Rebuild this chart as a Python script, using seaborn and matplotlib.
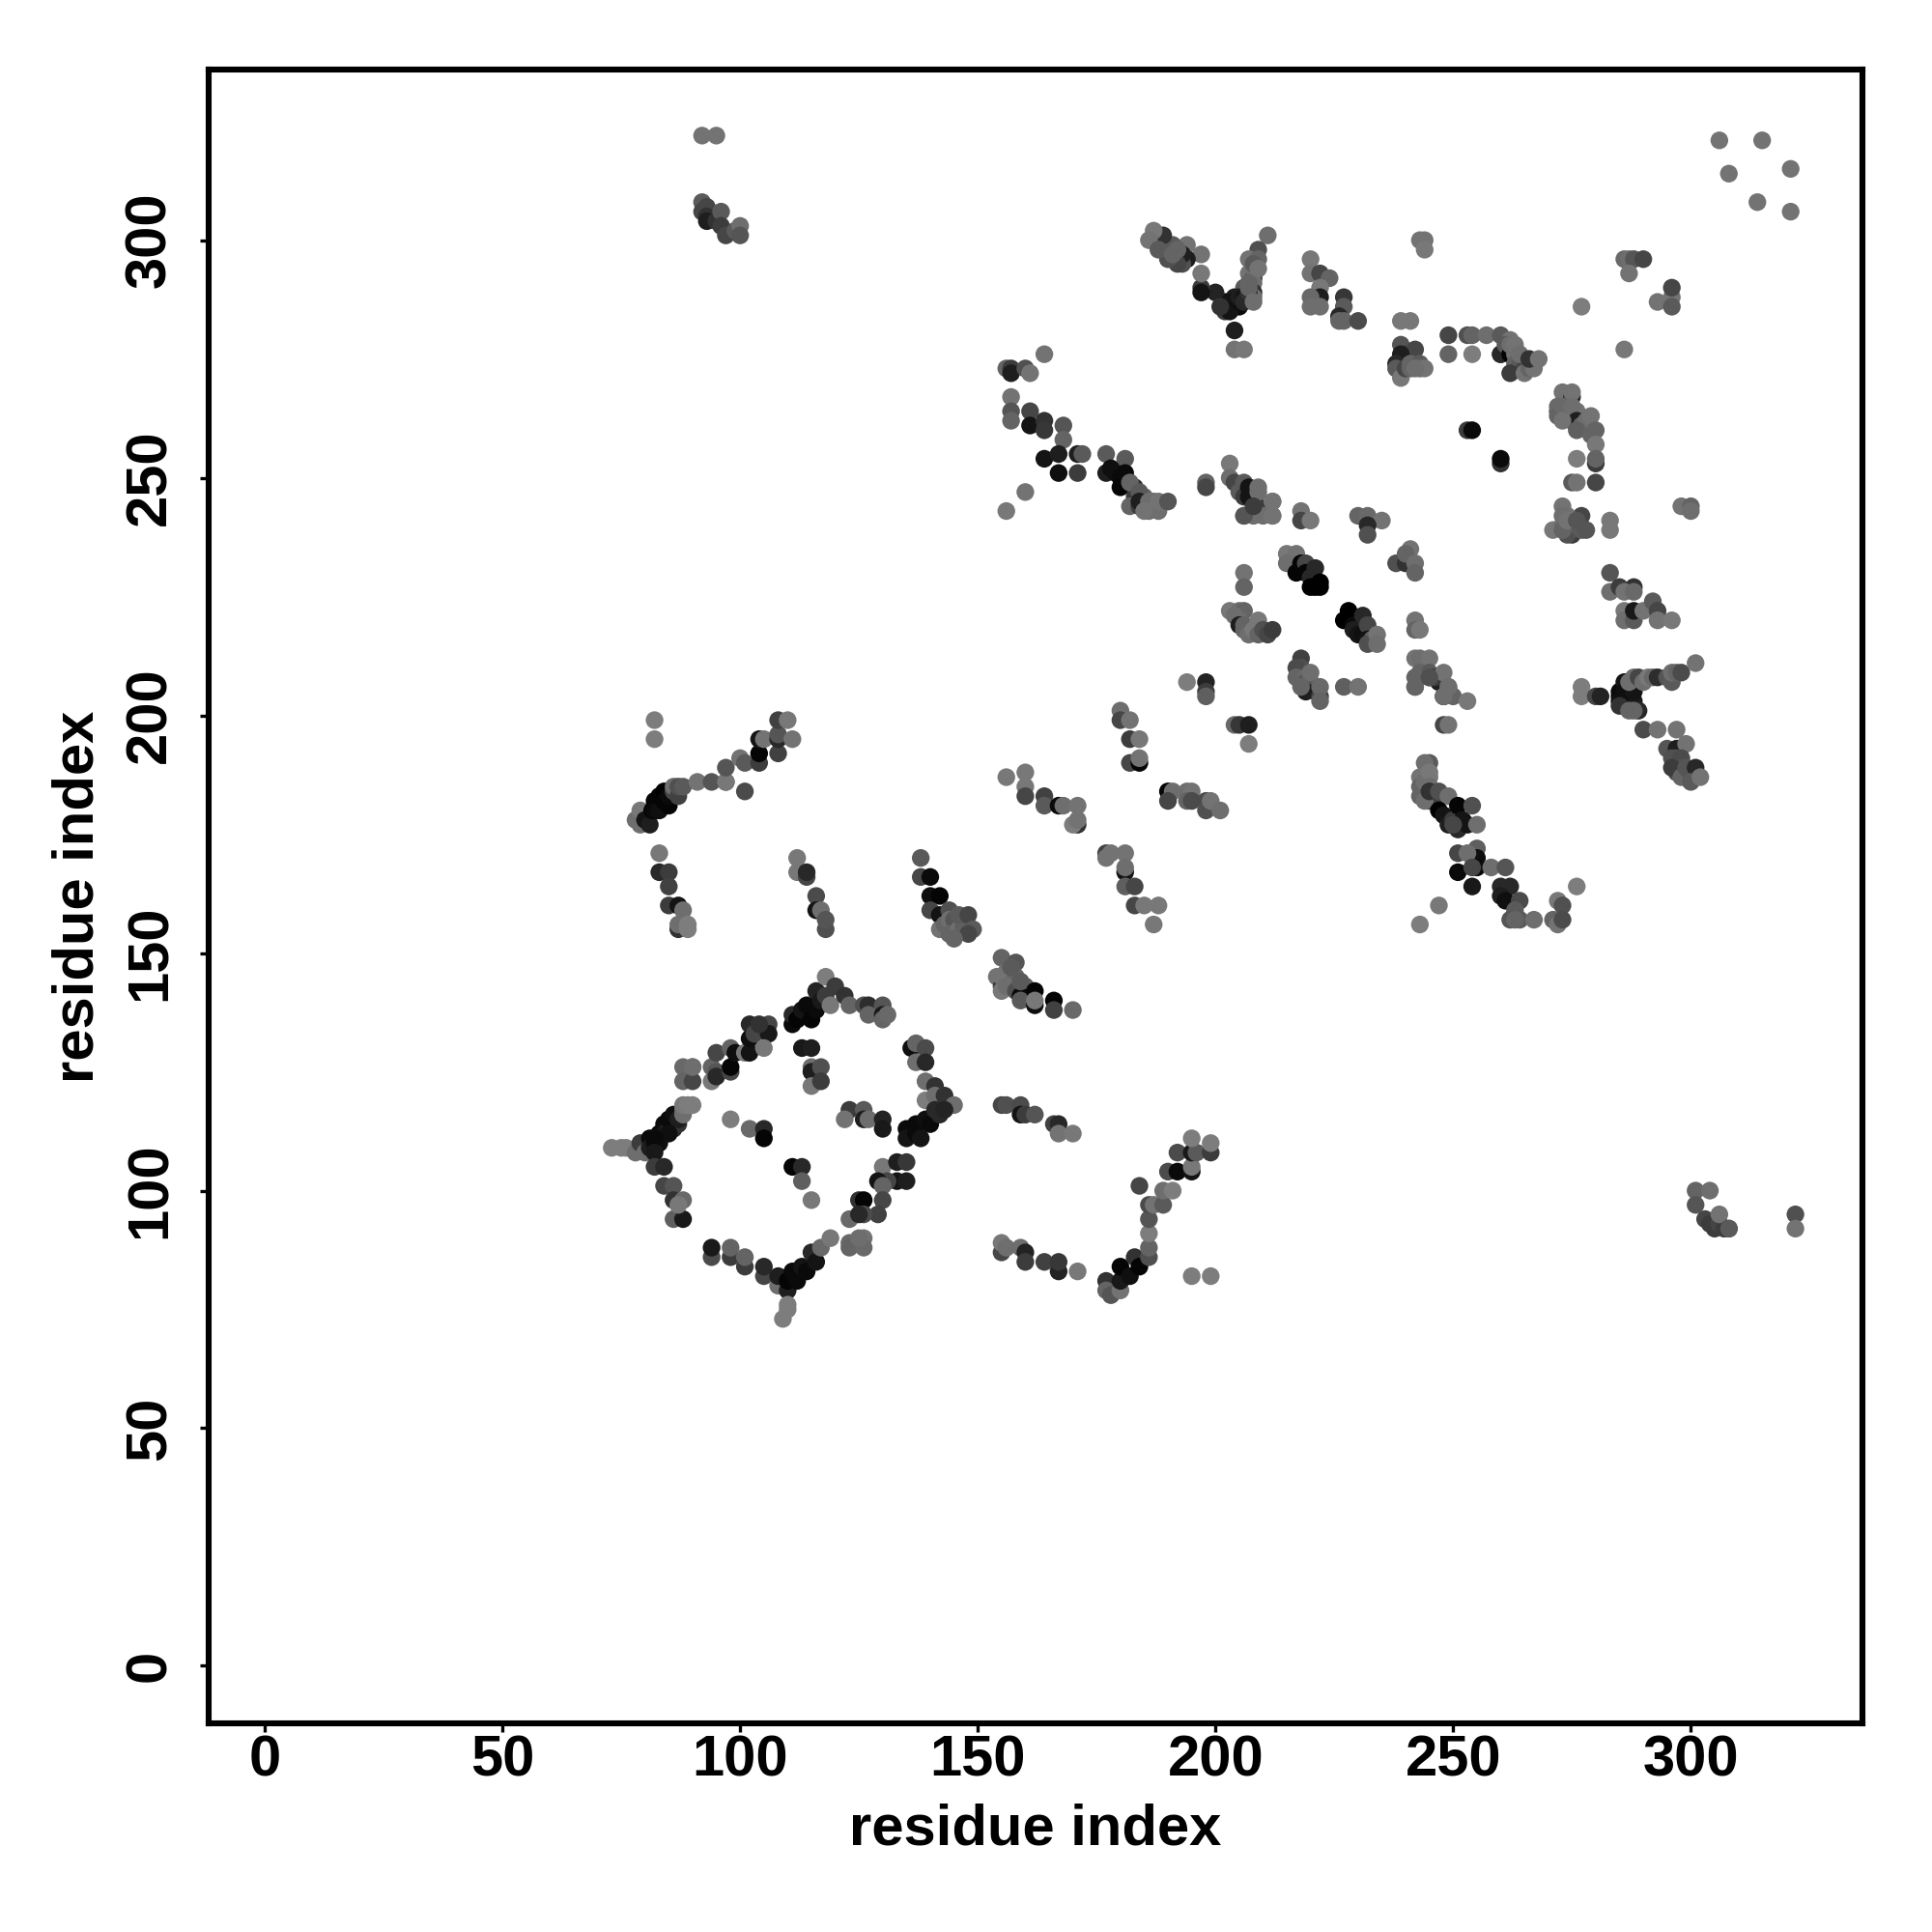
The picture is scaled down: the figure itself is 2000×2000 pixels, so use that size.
#!/usr/bin/env python3
"""Residue contact map: grey dots, darker means stronger contact."""

import matplotlib
matplotlib.use("Agg")
import matplotlib.pyplot as plt
import pandas as pd
import seaborn as sns

# values, one x / y / grey triple per group of dots
diamond_left_x = [73, 75, 76, 78, 79, 80, 81, 81, 83, 82, 84, 84, 85, 86, 86, 87, 87, 85, 86, 87, 85, 83, 82, 88, 88, 88, 89, 90]
diamond_left_y = [109, 109, 109, 108, 110, 108, 111, 109, 112, 110, 114, 112, 113, 115, 113, 116, 114, 115, 116, 115, 112, 110, 111, 117, 116, 118, 118, 118]
diamond_left_g = [125, 125, 125, 110, 60, 110, 10, 30, 10, 15, 10, 20, 30, 20, 40, 50, 50, 10, 15, 30, 15, 15, 10, 100, 110, 120, 125, 125]

diamond_low_x = [82, 82, 84, 84, 86, 86, 88, 86, 88, 87]
diamond_low_y = [108, 105, 105, 101, 101, 98, 98, 94, 94, 97]
diamond_low_g = [25, 60, 40, 70, 85, 50, 105, 95, 25, 120]

diamond_upper_x = [88, 90, 88, 90, 90, 94, 94, 95, 95, 95, 98, 98, 98, 99, 101, 102, 102, 102, 103, 106, 106, 105, 104]
diamond_upper_y = [126, 126, 123, 123, 126, 123, 126, 129, 125, 124, 130, 125, 126, 129, 129, 129, 135, 132, 133, 135, 133, 130, 135]
diamond_upper_g = [105, 105, 100, 70, 110, 120, 100, 70, 85, 40, 100, 70, 5, 15, 120, 20, 40, 15, 70, 70, 25, 120, 50]

diamond_top_x = [111, 111, 112, 113, 114, 115, 116, 116, 117, 118, 118, 119, 120, 122, 123, 126, 127, 127, 130, 130, 130, 131]
diamond_top_y = [135, 137, 136, 138, 139, 136, 142, 138, 140, 145, 141, 139, 143, 141, 139, 139, 139, 137, 139, 137, 136, 137]
diamond_top_g = [10, 40, 5, 20, 10, 5, 35, 10, 25, 125, 60, 120, 60, 50, 100, 80, 45, 100, 85, 25, 100, 105]

diamond_mid_x = [113, 115, 115, 115, 115, 117, 117, 98, 102, 105, 105, 111, 113, 113, 115, 123, 122, 126, 126, 127, 130, 130]
diamond_mid_y = [130, 130, 126, 125, 122, 126, 123, 115, 113, 113, 111, 105, 105, 102, 98, 117, 115, 117, 115, 115, 115, 113]
diamond_mid_g = [25, 30, 110, 30, 120, 80, 60, 125, 105, 40, 5, 5, 40, 95, 120, 60, 115, 90, 30, 110, 35, 25]

diamond_right_x = [136, 137, 137, 139, 139, 139, 141, 139, 141, 143, 145, 135, 135, 137, 137, 138, 139, 140, 141, 142, 143]
diamond_right_y = [130, 131, 127, 130, 127, 123, 122, 119, 120, 120, 118, 113, 111, 114, 112, 111, 115, 114, 117, 116, 117]
diamond_right_g = [15, 100, 110, 75, 40, 110, 50, 125, 110, 50, 110, 10, 20, 10, 10, 20, 15, 10, 40, 40, 35]

diamond_lowright_x = [130, 133, 135, 133, 135, 131, 129, 130, 130, 125, 126, 129, 126, 123, 125, 123, 123, 126, 126, 125]
diamond_lowright_y = [105, 106, 106, 102, 102, 102, 102, 101, 98, 98, 98, 95, 95, 94, 95, 89, 88, 90, 88, 90]
diamond_lowright_g = [120, 30, 55, 20, 30, 70, 20, 100, 70, 50, 5, 65, 75, 105, 40, 105, 100, 115, 105, 110]

diamond_bottom_x = [94, 94, 98, 98, 101, 101, 105, 105, 108, 108, 110, 110, 111, 112, 113, 114, 115, 116, 117, 119, 109, 110, 110]
diamond_bottom_y = [86, 88, 86, 88, 84, 86, 82, 84, 80, 82, 79, 81, 83, 81, 84, 83, 87, 85, 88, 90, 73, 75, 76]
diamond_bottom_g = [75, 25, 60, 100, 60, 100, 70, 40, 110, 30, 30, 5, 10, 10, 20, 10, 40, 20, 105, 120, 125, 125, 125]

arm_200_x = [82, 82, 78, 79, 79, 80, 81, 81.5, 82, 82, 83, 83, 84, 84, 85, 85, 86, 86, 87, 87, 88, 91, 94, 97, 97, 97, 100, 101, 101, 104, 104, 104, 105, 108, 108, 108, 108, 110, 111]
arm_200_y = [199, 195, 178, 177, 180, 178, 177, 180, 182, 180, 180, 183, 184, 182, 181, 183, 184, 185, 183, 185, 185, 186, 186, 186, 186, 189, 191, 184, 190, 190, 192, 195, 195, 192, 195, 196, 199, 199, 195]
arm_200_g = [125, 125, 110, 110, 120, 20, 30, 5, 5, 10, 15, 5, 0, 5, 5, 10, 70, 110, 65, 80, 90, 115, 85, 70, 120, 85, 115, 75, 90, 60, 5, 20, 115, 65, 40, 85, 65, 120, 115]

strand_160_x = [83, 83, 85, 85, 85, 87, 87, 87, 88, 89, 89, 112, 112, 114, 114, 116, 116, 117, 118, 118]
strand_160_y = [171, 167, 167, 164, 160, 160, 155, 156, 159, 155, 156, 170, 167, 166, 167, 162, 159, 159, 155, 157]
strand_160_g = [120, 40, 60, 65, 60, 20, 50, 110, 110, 125, 125, 120, 120, 70, 40, 75, 20, 110, 80, 85]

strand_140_x = [138, 138, 140, 140, 142, 140, 142, 144, 144, 142, 143, 144, 145, 144, 146, 147, 147, 146, 148, 149, 148, 145]
strand_140_y = [170, 166, 166, 162, 162, 159, 158, 159, 155, 155, 156, 157, 157, 154, 155, 155, 156, 158, 158, 155, 154, 153]
strand_140_g = [90, 70, 10, 15, 5, 70, 20, 80, 70, 115, 100, 110, 85, 100, 110, 100, 95, 90, 70, 90, 70, 100]

line_180_x = [156, 160, 160, 160, 164, 164, 167, 168, 171, 171, 170, 171]
line_180_y = [187, 188, 185, 183, 183, 181, 181, 181, 181, 177, 177, 178]
line_180_g = [120, 120, 120, 70, 65, 90, 10, 110, 115, 50, 125, 115]

mid_150_x = [155, 158, 154, 155, 155, 156, 155, 158, 157, 156, 158, 160, 159, 159, 159, 162, 162, 162, 166, 166, 170]
mid_150_y = [149, 148, 145, 143, 142, 146, 145, 145, 147, 143, 142, 143, 141, 144, 140, 142, 139, 140, 140, 138, 138]
mid_150_g = [100, 85, 115, 60, 120, 110, 115, 100, 90, 110, 80, 100, 10, 90, 90, 5, 15, 120, 5, 65, 105]

mid_115_x = [155, 156, 159, 159, 160, 162, 166, 167, 167, 170]
mid_115_y = [118, 118, 118, 116, 116, 116, 114, 114, 112, 112]
mid_115_g = [70, 80, 75, 20, 60, 85, 65, 40, 115, 120]

mid_85_x = [155, 155, 156, 159, 160, 160, 164, 167, 167, 171]
mid_85_y = [87, 89, 88, 88, 87, 85, 85, 83, 85, 83]
mid_85_g = [70, 120, 110, 110, 35, 60, 65, 35, 55, 120]

curve_90_x = [177, 177, 178, 180, 180, 180, 182, 183, 184, 186, 186, 186, 186, 186, 187, 189, 189, 191, 190, 192, 192, 195, 195, 195, 196, 195, 199, 199, 184, 195, 199]
curve_90_y = [81, 79, 78, 79, 81, 84, 82, 86, 84, 86, 88, 91, 94, 97, 97, 97, 100, 100, 104, 104, 108, 104, 105, 108, 108, 111, 108, 110, 101, 82, 82]
curve_90_g = [50, 100, 85, 115, 25, 5, 15, 50, 5, 80, 100, 125, 85, 75, 115, 90, 110, 125, 75, 10, 75, 20, 120, 25, 90, 125, 60, 125, 70, 125, 125]

line_190_x = [190, 191, 190, 194, 195, 194, 195, 198, 198, 199, 201]
line_190_y = [184, 184, 182, 184, 184, 182, 182, 182, 180, 182, 180]
line_190_g = [5, 110, 70, 110, 115, 100, 75, 75, 80, 115, 110]

line_170_x = [177, 178, 177, 181, 181, 181, 181, 183, 183, 185, 188, 187]
line_170_y = [171, 171, 170, 167, 171, 168, 164, 164, 160, 160, 160, 156]
line_170_g = [65, 115, 115, 20, 115, 110, 95, 70, 70, 120, 120, 120]

cluster_200_x = [180, 180, 182, 182, 184, 182, 184, 184, 194, 198, 198, 198, 204, 205, 207, 207]
cluster_200_y = [201, 199, 199, 195, 195, 190, 190, 191, 207, 207, 205, 204, 198, 198, 198, 194]
cluster_200_g = [110, 70, 115, 60, 120, 70, 5, 115, 125, 35, 60, 95, 105, 55, 30, 125]

cluster_220_x = [206, 206, 203, 205, 206, 204, 205, 205, 206, 206, 207, 207, 208, 209, 209, 210, 211, 212]
cluster_220_y = [230, 227, 222, 222, 222, 221, 220, 219, 219, 218, 218, 217, 218, 220, 217, 218, 217, 218]
cluster_220_g = [115, 100, 120, 110, 100, 110, 110, 30, 100, 100, 100, 110, 120, 120, 100, 80, 70, 60]

dark_230_x = [215, 217, 215, 218, 217, 219, 219, 220, 221, 220, 222, 222, 221, 228, 227, 229, 229, 230, 231, 231, 232, 232, 233, 232, 234, 234]
dark_230_y = [234, 234, 232, 232, 230, 232, 230, 229, 231, 227, 228, 227, 227, 222, 220, 219, 218, 217, 221, 217, 219, 216, 216, 215, 217, 215]
dark_230_g = [120, 115, 110, 5, 5, 70, 5, 40, 40, 0, 0, 0, 0, 0, 0, 10, 30, 20, 40, 15, 70, 20, 100, 80, 115, 110]

cluster_205_x = [218, 218, 217, 217, 219, 220, 221, 219, 220, 219, 218, 222, 222, 222, 227, 230, 248, 249]
cluster_205_y = [212, 210, 210, 208, 208, 207, 205, 207, 209, 205, 206, 204, 206, 203, 206, 206, 198, 198]
cluster_205_g = [65, 80, 75, 100, 105, 110, 110, 90, 110, 30, 100, 70, 105, 100, 95, 115, 70, 115]

cluster_210_x = [242, 242, 243, 245, 242, 247, 248, 242, 243, 245, 243, 245, 246, 248, 249, 248, 250, 242, 242, 245, 248, 249, 253]
cluster_210_y = [220, 218, 218, 208, 206, 207, 204, 212, 212, 212, 209, 209, 208, 209, 206, 204, 204, 208, 206, 208, 204, 206, 203]
cluster_210_g = [115, 100, 120, 50, 80, 30, 40, 115, 110, 115, 100, 90, 60, 115, 110, 70, 100, 100, 100, 80, 110, 110, 120]

cluster_240_x = [238, 240, 241, 240, 242, 242, 230, 232, 235, 232, 232, 218, 218, 220]
cluster_240_y = [232, 232, 235, 234, 232, 230, 242, 242, 241, 240, 238, 243, 241, 241]
cluster_240_g = [80, 50, 115, 100, 110, 100, 100, 105, 115, 40, 80, 115, 70, 120]

arm_180_x = [245, 244, 243, 243, 245, 243, 245, 244, 245, 246, 246, 245, 244, 245, 247, 249, 247, 248, 249, 251, 253, 250, 251, 252, 250, 254, 255]
arm_180_y = [190, 190, 187, 185, 187, 183, 182, 186, 188, 182, 183, 185, 182, 184, 184, 183, 180, 179, 177, 176, 177, 178, 181, 178, 177, 181, 177]
arm_180_g = [90, 110, 115, 100, 115, 100, 80, 110, 120, 40, 60, 110, 110, 50, 80, 110, 0, 20, 30, 40, 20, 60, 5, 20, 70, 80, 110]

arm_165_x = [251, 251, 255, 255, 253, 255, 254, 254, 258, 261, 260, 262, 260, 261, 264, 263, 262, 264, 263, 267]
arm_165_y = [171, 167, 172, 170, 171, 168, 168, 164, 168, 168, 164, 164, 162, 161, 161, 159, 157, 157, 157, 157]
arm_165_g = [70, 10, 95, 15, 110, 10, 70, 25, 110, 85, 40, 40, 30, 15, 75, 90, 85, 90, 100, 110]

end_157_x = [272, 273, 271, 272, 273, 276, 247, 243]
end_157_y = [161, 160, 157, 156, 157, 164, 160, 156]
end_157_g = [120, 80, 100, 115, 75, 125, 120, 125]

cluster_225_x = [283, 283, 285, 288, 286, 288, 286, 286, 288, 288, 290, 292, 293, 293, 296]
cluster_225_y = [230, 226, 227, 227, 226, 226, 222, 220, 220, 222, 222, 224, 222, 220, 220]
cluster_225_g = [85, 110, 60, 50, 115, 105, 120, 110, 90, 25, 115, 90, 70, 115, 120]

fork_205_x = [277, 277, 280, 281, 285, 286, 287, 285, 287, 288, 286, 285, 285, 288, 289, 288, 287, 290, 293, 297, 287, 288, 289, 290, 291, 292, 293, 295, 296, 296, 297, 298, 301]
fork_205_y = [206, 204, 204, 204, 205, 207, 204, 204, 206, 203, 205, 203, 202, 205, 201, 201, 201, 197, 197, 197, 207, 208, 208, 207, 208, 208, 208, 208, 207, 209, 209, 209, 211]
fork_205_g = [125, 125, 70, 35, 10, 20, 10, 10, 30, 25, 15, 15, 50, 20, 40, 100, 100, 75, 115, 115, 110, 110, 70, 110, 120, 105, 45, 85, 90, 110, 100, 75, 115]

tail_190_x = [295, 297, 299, 297, 296, 298, 298, 297, 296, 299, 298, 300, 299, 301, 300, 302]
tail_190_y = [193, 193, 194, 191, 191, 191, 189, 188, 189, 187, 187, 188, 189, 189, 186, 187]
tail_190_g = [85, 30, 115, 80, 80, 75, 80, 80, 60, 85, 100, 60, 85, 40, 90, 115]

top_right_x = [306, 315, 308, 321, 314, 321, 286, 287, 288, 290, 287, 296, 296, 293, 296, 277, 286]
top_right_y = [321, 321, 314, 315, 308, 306, 296, 296, 296, 296, 293, 288, 290, 287, 286, 286, 277]
top_right_g = [115, 115, 115, 115, 115, 115, 105, 110, 85, 70, 115, 115, 70, 115, 90, 125, 120]

row_280_x = [239, 241, 244, 243, 244, 249, 249, 253, 254, 254, 257, 260, 262, 260, 260, 261, 262, 263, 263, 262, 264, 265, 263, 264, 262, 265, 266, 267, 266, 268]
row_280_y = [283, 283, 300, 300, 298, 280, 276, 280, 280, 276, 280, 280, 279, 276, 276, 278, 276, 276, 274, 278, 274, 273, 278, 276, 272, 272, 273, 273, 275, 275]
row_280_g = [120, 120, 115, 115, 120, 70, 100, 80, 100, 125, 110, 90, 115, 60, 40, 90, 5, 115, 100, 110, 90, 70, 115, 110, 60, 115, 100, 115, 50, 115]

dark_pair_x = [253, 254, 260, 260]
dark_pair_y = [260, 260, 253, 254]
dark_pair_g = [60, 10, 50, 10]

column_260_x = [273, 275, 275, 272, 272, 272, 273, 275, 276, 276, 275, 276, 277, 278, 273, 276, 279, 279, 280, 280, 276, 280, 280, 275, 276, 280]
column_260_y = [268, 267, 268, 264, 265, 263, 265, 262, 264, 261, 265, 262, 261, 262, 262, 260, 259, 263, 260, 257, 254, 253, 254, 249, 249, 249]
column_260_g = [115, 40, 115, 80, 105, 100, 105, 110, 115, 50, 110, 30, 100, 110, 115, 95, 100, 115, 100, 120, 125, 60, 100, 90, 115, 70]

column_240_x = [273, 277, 274, 271, 274, 275, 273, 273, 274, 276, 277, 273, 274, 276, 278, 283, 283, 298, 300, 300]
column_240_y = [244, 242, 242, 239, 239, 238, 242, 240, 238, 240, 239, 239, 241, 241, 239, 241, 239, 244, 244, 243]
column_240_g = [115, 70, 115, 120, 30, 60, 110, 110, 80, 90, 90, 100, 115, 85, 85, 120, 120, 115, 100, 110]

v_290_x = [211, 209, 207, 209, 207, 208, 208, 208, 208, 206, 204, 205, 204, 202, 200, 202, 197, 197, 197, 197, 203, 203, 205, 205, 206, 206, 207, 201, 207, 208, 208, 207, 208, 209]
v_290_y = [301, 298, 296, 296, 293, 292, 291, 289, 288, 290, 288, 286, 287, 287, 289, 285, 290, 289, 293, 297, 285, 287, 287, 288, 288, 287, 289, 286, 290, 287, 294, 291, 295, 294]
v_290_g = [110, 80, 115, 100, 115, 40, 110, 50, 110, 90, 30, 10, 15, 15, 35, 60, 60, 20, 120, 115, 20, 20, 15, 30, 20, 40, 50, 50, 100, 110, 110, 100, 90, 115]

v_300_x = [187, 188, 194, 194, 193, 193, 192, 191, 190, 190, 189, 189, 187, 186, 188, 192, 191, 204, 204, 206]
v_300_y = [300, 301, 299, 296, 295, 297, 295, 299, 298, 296, 299, 301, 302, 300, 298, 298, 297, 281, 277, 277]
v_300_g = [115, 100, 115, 30, 80, 30, 70, 90, 70, 80, 90, 50, 120, 115, 90, 100, 100, 30, 115, 120]

pair_290_x = [220, 220, 222, 224, 222, 222, 220, 220, 222, 227, 227, 226, 226, 227, 230]
pair_290_y = [296, 293, 293, 292, 290, 288, 288, 286, 286, 288, 286, 284, 283, 283, 283]
pair_290_g = [120, 115, 70, 100, 120, 30, 105, 110, 110, 55, 90, 40, 100, 100, 75]

block_275_x = [239, 242, 240, 239, 238, 238, 239, 240, 241, 243, 241, 243, 244, 242]
block_275_y = [278, 277, 276, 276, 274, 273, 271, 273, 274, 274, 273, 273, 273, 273]
block_275_g = [85, 70, 70, 30, 40, 90, 120, 70, 100, 90, 100, 105, 115, 110]

wing_270_x = [164, 156, 157, 157, 160, 161, 157, 157, 157, 161, 161, 164, 164, 168, 168]
wing_270_y = [276, 273, 273, 272, 273, 272, 267, 264, 262, 264, 261, 262, 260, 261, 258]
wing_270_g = [115, 100, 60, 30, 80, 115, 115, 85, 100, 70, 20, 50, 55, 85, 100]

wing_250_x = [164, 167, 167, 171, 171, 172, 160, 156, 177, 181, 177, 178, 179, 180, 180, 181, 183, 183, 182, 185, 184, 186, 188]
wing_250_y = [254, 255, 251, 251, 255, 255, 247, 243, 255, 254, 251, 252, 251, 250, 248, 251, 248, 246, 249, 246, 247, 243, 243]
wing_250_g = [20, 30, 15, 60, 30, 90, 115, 120, 90, 90, 30, 15, 15, 10, 5, 10, 40, 60, 100, 100, 90, 110, 110]

wing_245_x = [182, 184, 184, 186, 187, 188, 190, 185, 198, 198]
wing_245_y = [244, 244, 245, 245, 245, 245, 245, 243, 249, 248]
wing_245_g = [100, 60, 30, 110, 110, 115, 85, 115, 100, 70]

block_245_x = [203, 203, 204, 206, 205, 206, 207, 207, 209, 206, 208, 209, 212, 212, 210, 206, 209, 212, 212, 208]
block_245_y = [253, 250, 249, 249, 247, 246, 246, 248, 248, 242, 242, 244, 245, 242, 242, 242, 247, 245, 242, 244]
block_245_g = [120, 110, 70, 90, 90, 60, 20, 20, 110, 90, 110, 60, 115, 110, 110, 85, 110, 115, 115, 60]

corner_305_x = [92, 95, 92, 92, 93, 93, 93, 95, 96, 96, 97, 99, 100, 100]
corner_305_y = [322, 322, 308, 306, 307, 305, 304, 304, 306, 303, 301, 302, 303, 301]
corner_305_g = [115, 115, 90, 70, 70, 50, 30, 50, 90, 60, 70, 90, 110, 85]

corner_95_x = [301, 304, 301, 303, 304, 305, 306, 307, 306, 308, 308, 322, 322]
corner_95_y = [100, 100, 97, 94, 93, 92, 93, 92, 95, 92, 92, 95, 92]
corner_95_g = [100, 110, 85, 70, 60, 60, 70, 60, 115, 30, 90, 80, 115]

groups = [
    (diamond_left_x, diamond_left_y, diamond_left_g),
    (diamond_low_x, diamond_low_y, diamond_low_g),
    (diamond_upper_x, diamond_upper_y, diamond_upper_g),
    (diamond_top_x, diamond_top_y, diamond_top_g),
    (diamond_mid_x, diamond_mid_y, diamond_mid_g),
    (diamond_right_x, diamond_right_y, diamond_right_g),
    (diamond_lowright_x, diamond_lowright_y, diamond_lowright_g),
    (diamond_bottom_x, diamond_bottom_y, diamond_bottom_g),
    (arm_200_x, arm_200_y, arm_200_g),
    (strand_160_x, strand_160_y, strand_160_g),
    (strand_140_x, strand_140_y, strand_140_g),
    (line_180_x, line_180_y, line_180_g),
    (mid_150_x, mid_150_y, mid_150_g),
    (mid_115_x, mid_115_y, mid_115_g),
    (mid_85_x, mid_85_y, mid_85_g),
    (curve_90_x, curve_90_y, curve_90_g),
    (line_190_x, line_190_y, line_190_g),
    (line_170_x, line_170_y, line_170_g),
    (cluster_200_x, cluster_200_y, cluster_200_g),
    (cluster_220_x, cluster_220_y, cluster_220_g),
    (dark_230_x, dark_230_y, dark_230_g),
    (cluster_205_x, cluster_205_y, cluster_205_g),
    (cluster_210_x, cluster_210_y, cluster_210_g),
    (cluster_240_x, cluster_240_y, cluster_240_g),
    (arm_180_x, arm_180_y, arm_180_g),
    (arm_165_x, arm_165_y, arm_165_g),
    (end_157_x, end_157_y, end_157_g),
    (cluster_225_x, cluster_225_y, cluster_225_g),
    (fork_205_x, fork_205_y, fork_205_g),
    (tail_190_x, tail_190_y, tail_190_g),
    (top_right_x, top_right_y, top_right_g),
    (row_280_x, row_280_y, row_280_g),
    (dark_pair_x, dark_pair_y, dark_pair_g),
    (column_260_x, column_260_y, column_260_g),
    (column_240_x, column_240_y, column_240_g),
    (v_290_x, v_290_y, v_290_g),
    (v_300_x, v_300_y, v_300_g),
    (pair_290_x, pair_290_y, pair_290_g),
    (block_275_x, block_275_y, block_275_g),
    (wing_270_x, wing_270_y, wing_270_g),
    (wing_250_x, wing_250_y, wing_250_g),
    (wing_245_x, wing_245_y, wing_245_g),
    (block_245_x, block_245_y, block_245_g),
    (corner_305_x, corner_305_y, corner_305_g),
    (corner_95_x, corner_95_y, corner_95_g),
]

tick_values = [0, 50, 100, 150, 200, 250, 300]

frames = [pd.DataFrame({"x": gx, "y": gy, "grey": gg}) for gx, gy, gg in groups]
df = pd.concat(frames, ignore_index=True)

sns.set_theme(style="white")
plt.rcParams["font.family"] = ["Liberation Sans", "DejaVu Sans"]
plt.rcParams["font.weight"] = "bold"

fig = plt.figure(figsize=(20, 20), dpi=100)
ax = fig.add_axes([216 / 2000, 216 / 2000, 1712 / 2000, 1712 / 2000])

sns.scatterplot(data=df, x="x", y="y", hue="grey", palette="gray", hue_norm=(0, 255),
                s=174, linewidth=0, legend=False, ax=ax)

ax.set_xlim(-11.8, 336.1)
ax.set_ylim(-12.1, 335.9)
ax.set_xticks(tick_values)
ax.set_yticks(tick_values)
ax.tick_params(axis="x", length=6.5, width=2.4, color="black", labelsize=43,
               labelcolor="black", pad=1.6, bottom=True)
ax.tick_params(axis="y", length=6.5, width=2.4, color="black", labelsize=43,
               labelcolor="black", pad=17, left=True)
plt.setp(ax.get_yticklabels(), rotation=90, va="center")

for spine in ax.spines.values():
    spine.set_linewidth(4.4)
    spine.set_color("black")

ax.set_xlabel("residue index", fontsize=43, fontweight="bold", color="black", labelpad=12)
ax.set_ylabel("residue index", fontsize=43, fontweight="bold", color="black", labelpad=14)

fig.savefig("out.png", dpi=100, facecolor="white")
